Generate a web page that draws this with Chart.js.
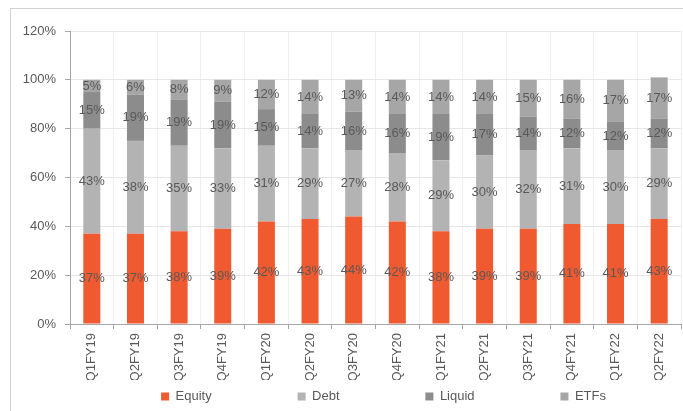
<!DOCTYPE html>
<html>
<head>
<meta charset="utf-8">
<script src="https://cdn.jsdelivr.net/npm/chart.js@4.4.1/dist/chart.umd.min.js"></script>
<style>
    html, body { margin: 0; padding: 0; background: #fff; overflow: hidden; }
    #wrap { position: relative; width: 683px; height: 411px; }
    #frame { position: absolute; left: 10px; top: 8px; width: 700px; height: 420px; border: 1px solid #d0d0d0; box-sizing: border-box; }
    #chart { position: absolute; left: 0; top: 0; }
</style>
</head>
<body>
<div id="wrap">
    <div id="frame"></div>
    <canvas id="chart" width="683" height="411"></canvas>
</div>
<script>
const quarters = ["Q1FY19", "Q2FY19", "Q3FY19", "Q4FY19", "Q1FY20", "Q2FY20", "Q3FY20",
    "Q4FY20", "Q1FY21", "Q2FY21", "Q3FY21", "Q4FY21", "Q1FY22", "Q2FY22"];
const equity = [37, 37, 38, 39, 42, 43, 44, 42, 38, 39, 39, 41, 41, 43];
const debt   = [43, 38, 35, 33, 31, 29, 27, 28, 29, 30, 32, 31, 30, 29];
const liquid = [15, 19, 19, 19, 15, 14, 16, 16, 19, 17, 14, 12, 12, 12];
const etfs   = [5, 6, 8, 9, 12, 14, 13, 14, 14, 14, 15, 16, 17, 17];
const yTicks = [0, 20, 40, 60, 80, 100, 120];

const FONT = "'Liberation Sans', Arial, sans-serif";
const TEXT = '#595959';
// legend entries are laid out in fixed-width slots like the original
const legendSlots = [114, 104, 114, 99];

const measureCtx = document.createElement('canvas').getContext('2d');
measureCtx.font = `13px ${FONT}`;

function padText(text, width) {
    let out = text;
    while (measureCtx.measureText(out + '\u00a0').width <= width) out += '\u00a0';
    return out;
}

// draws the % value in the middle of each segment
const segmentLabels = {
    id: 'segmentLabels',
    afterDatasetsDraw(chart) {
        const ctx = chart.ctx;
        ctx.save();
        ctx.font = `13px ${FONT}`;
        ctx.fillStyle = TEXT;
        ctx.textAlign = 'center';
        ctx.textBaseline = 'middle';
        chart.data.datasets.forEach((ds, i) => {
            const meta = chart.getDatasetMeta(i);
            meta.data.forEach((bar, j) => {
                const y = (bar.y + bar.base) / 2;
                ctx.fillText(ds.data[j] + '%', bar.x, y);
            });
        });
        ctx.restore();
    }
};

function makeSet(label, data, color) {
    return {
        label: label,
        data: data,
        backgroundColor: color,
        borderWidth: 0,
        barPercentage: 0.39,
        categoryPercentage: 1
    };
}

new Chart(document.getElementById('chart'), {
    type: 'bar',
    data: {
        labels: quarters,
        datasets: [
            makeSet('Equity', equity, '#F05A30'),
            makeSet('Debt', debt, '#B3B3B3'),
            makeSet('Liquid', liquid, '#8C8C8C'),
            makeSet('ETFs', etfs, '#A6A6A6')
        ]
    },
    options: {
        responsive: false,
        animation: false,
        layout: { padding: { left: 10, right: 2, top: 31, bottom: -2 } },
        plugins: {
            tooltip: { enabled: false },
            legend: {
                position: 'bottom',
                align: 'end',
                labels: {
                    boxWidth: 8,
                    boxHeight: 8,
                    padding: 10,
                    color: TEXT,
                    font: { family: FONT, size: 13 },
                    generateLabels(chart) {
                        const items = Chart.defaults.plugins.legend.labels.generateLabels(chart);
                        items.forEach((it, i) => { it.text = padText(it.text, legendSlots[i]); });
                        return items;
                    }
                }
            }
        },
        scales: {
            x: {
                stacked: true,
                offset: true,
                grid: { offset: true, color: '#efefef', tickColor: '#a6a6a6', tickLength: 5 },
                border: { color: '#a6a6a6' },
                ticks: {
                    color: TEXT,
                    font: { family: FONT, size: 13 },
                    minRotation: 90,
                    maxRotation: 90,
                    padding: 4
                },
                afterFit(scale) { scale.height = 56; }
            },
            y: {
                stacked: true,
                min: 0,
                max: 120,
                afterBuildTicks(scale) { scale.ticks = yTicks.map(v => ({ value: v })); },
                grid: { color: '#e6e6e6', tickColor: '#a6a6a6', tickLength: 5 },
                border: { color: '#a6a6a6' },
                ticks: {
                    color: TEXT,
                    font: { family: FONT, size: 13 },
                    padding: 9,
                    callback: v => v + '%'
                },
                afterFit(scale) { scale.width = 60; }
            }
        }
    },
    plugins: [segmentLabels]
});
</script>
</body>
</html>
